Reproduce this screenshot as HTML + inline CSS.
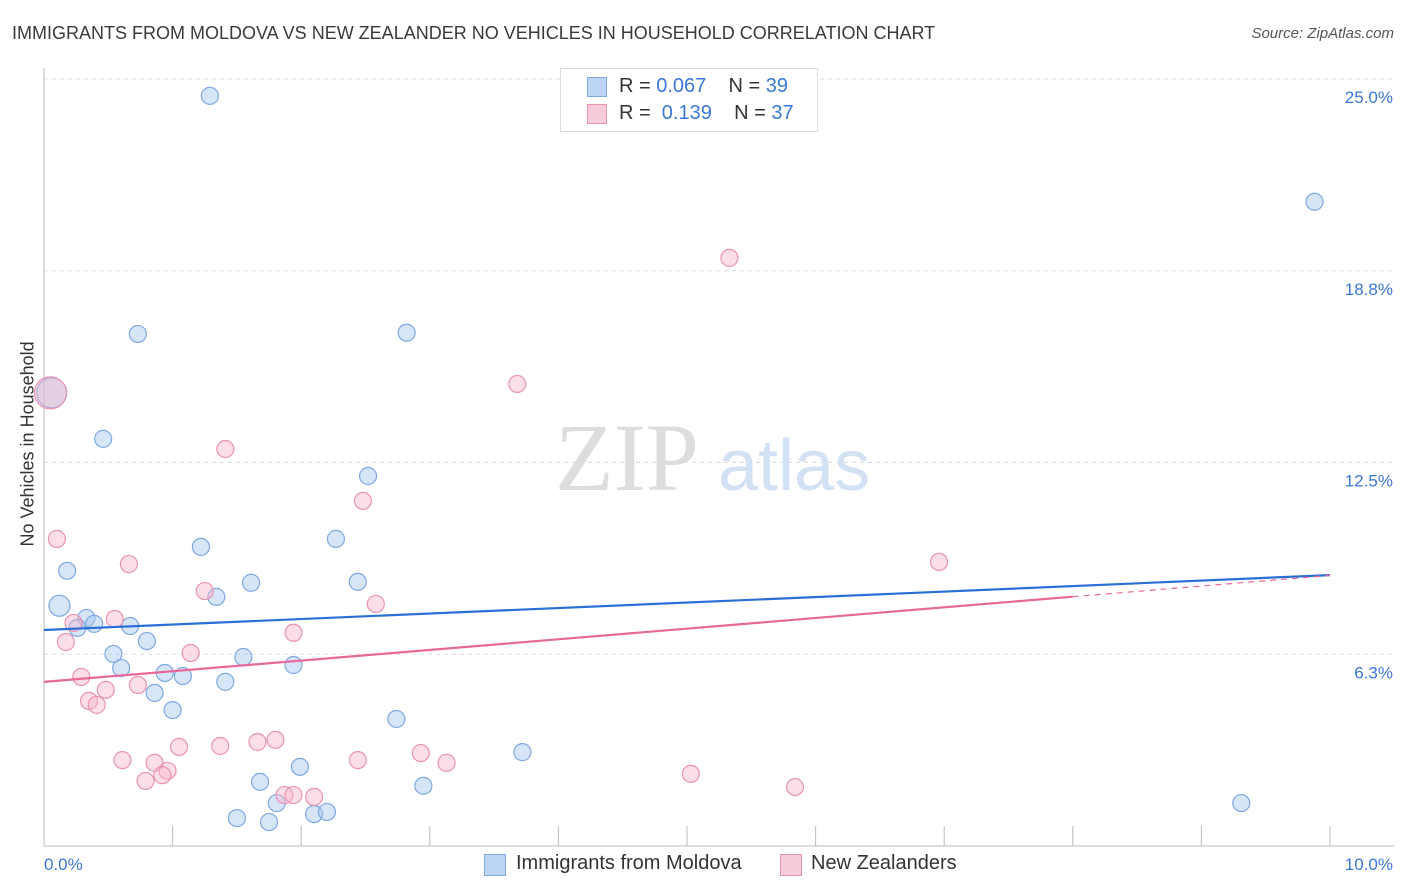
<!DOCTYPE html>
<html><head><meta charset="utf-8">
<style>
body{margin:0;background:#fff;font-family:"Liberation Sans",sans-serif;}
#wrap{position:relative;width:1406px;height:892px;overflow:hidden;}
.t{position:absolute;white-space:nowrap;}
</style></head><body>
<div id="wrap">
<div class="t" style="left:12px;top:23px;font-size:18px;color:#3a3a3a;">IMMIGRANTS FROM MOLDOVA VS NEW ZEALANDER NO VEHICLES IN HOUSEHOLD CORRELATION CHART</div>
<div class="t" style="right:12px;top:25px;font-size:15px;color:#555;font-style:italic;">Source: ZipAtlas.com</div>
<svg id="svg" width="1406" height="892" style="position:absolute;left:0;top:0"></svg>
</div>
<script>
const yTicks=[6.25,12.5,18.75,25];
const yTickLabels=["6.3%","12.5%","18.8%","25.0%"];
const xTickLabels=["0.0%","10.0%"];
const blueX=[1.29,9.88,0.73,2.82,0.06,0.46,2.52,2.27,1.22,0.18,1.61,2.44,1.34,0.12,0.33,0.39,0.26,0.67,0.80,0.54,1.55,0.60,1.94,0.94,1.08,1.41,0.86,1.00,2.74,3.72,1.99,1.68,2.95,1.81,9.31,1.50,1.75,2.10,2.20];
const blueY=[24.45,21.0,16.69,16.73,14.77,13.27,12.06,10.01,9.75,8.97,8.58,8.61,8.12,7.83,7.43,7.24,7.11,7.17,6.68,6.26,6.16,5.80,5.90,5.64,5.54,5.35,4.99,4.43,4.14,3.06,2.58,2.09,1.96,1.40,1.40,0.91,0.78,1.04,1.11];
const blueR=[8.5,8.5,8.5,8.5,15,8.5,8.5,8.5,8.5,8.5,8.5,8.5,8.5,10.5,8.5,8.5,8.5,8.5,8.5,8.5,8.5,8.5,8.5,8.5,8.5,8.5,8.5,8.5,8.5,8.5,8.5,8.5,8.5,8.5,8.5,8.5,8.5,8.5,8.5];
const pinkX=[5.33,3.68,1.41,2.48,0.10,0.66,6.96,1.25,2.58,0.55,0.23,1.94,0.17,1.14,0.29,0.73,0.48,0.35,0.41,0.61,0.86,1.05,1.37,1.66,1.80,0.96,0.92,0.79,2.93,3.13,2.44,5.03,5.84,1.87,1.94,2.10,0.05];
const pinkY=[19.17,15.06,12.94,11.25,10.01,9.19,9.26,8.31,7.89,7.40,7.27,6.95,6.65,6.29,5.51,5.25,5.09,4.73,4.60,2.80,2.71,3.23,3.26,3.39,3.46,2.45,2.31,2.12,3.03,2.71,2.80,2.35,1.92,1.66,1.66,1.60,14.77];
const blueTrend=[7.04,8.83];
const pinkTrend=[5.35,8.82];
const pinkSolidEnd=8.0;
const X0=44,X1=1330,Y0=846,Ytop=79;
const sx=v=>X0+(X1-X0)*v/10;
const sy=v=>Y0-(Y0-Ytop)*v/25;
const svg=document.getElementById('svg');
const NS='http://www.w3.org/2000/svg';
function mk(t,a){const e=document.createElementNS(NS,t);for(const k in a)e.setAttribute(k,a[k]);svg.appendChild(e);return e;}
yTicks.forEach((v,i)=>{
 const g=mk('line',{x1:X0,x2:1394,y1:sy(v),y2:sy(v),stroke:'#ddd','stroke-dasharray':'4,4'});
 
 
 const t=mk('text',{x:1393,y:sy(v)+24,'text-anchor':'end','font-size':17,fill:'#3a78d8','font-family':'Liberation Sans'});
 t.textContent=yTickLabels[i];
 
 
});
const ax=mk('line',{x1:X0,x2:X0,y1:68,y2:Y0,stroke:'#bbb'});


const bx=mk('line',{x1:X0,x2:1394,y1:Y0,y2:Y0,stroke:'#bbb'});


for(let i=0;i<=10;i++){const tk=mk('line',{x1:sx(i),x2:sx(i),y1:826,y2:Y0,stroke:'#bbb'});
 
 }
[[0,44,'start'],[10,1393,'end']].forEach((d,i)=>{const t=mk('text',{x:d[1],y:870,'text-anchor':d[2],'font-size':17,fill:'#3a78d8','font-family':'Liberation Sans'});t.textContent=xTickLabels[i];
 
 });
const w=mk('text',{x:555,y:490,'font-size':96,fill:'#ddd','font-family':'Liberation Serif'});w.textContent='ZIP';


const w2=mk('text',{x:718,y:490,'font-size':72,fill:'#d3e1f5','font-family':'Liberation Sans'});w2.textContent='atlas';


blueX.forEach((v,i)=>{const c=mk('circle',{cx:sx(v),cy:sy(blueY[i]),r:blueR[i],fill:'rgba(165,198,240,0.45)',stroke:'#7ea9e1','stroke-width':1.2});
 
 });
pinkX.forEach((v,i)=>{const c=mk('circle',{cx:sx(v),cy:sy(pinkY[i]),r:i==36?16:8.5,fill:'rgba(246,182,202,0.45)',stroke:'#ea93b3','stroke-width':1.2});
 
 });
const bl=mk('line',{x1:sx(0),y1:sy(blueTrend[0]),x2:sx(10),y2:sy(blueTrend[1]),stroke:'#2a6fd6','stroke-width':2.2});


const py=x=>pinkTrend[0]+(pinkTrend[1]-pinkTrend[0])*x/10;
const pl=mk('line',{x1:sx(0),y1:sy(pinkTrend[0]),x2:sx(pinkSolidEnd),y2:sy(py(pinkSolidEnd)),stroke:'#e8689a','stroke-width':2.2});


const pd=mk('line',{x1:sx(pinkSolidEnd),y1:sy(py(pinkSolidEnd)),x2:sx(10),y2:sy(pinkTrend[1]),stroke:'#e8689a','stroke-width':1.2,'stroke-dasharray':'6,5'});


</script>
<div class="t" style="left:-62px;top:446px;font-size:18px;color:#333;transform:rotate(-90deg);width:180px;text-align:center;">No Vehicles in Household</div>
<div style="position:absolute;left:560px;top:68px;width:256px;height:62px;border:1px solid #ddd;background:#fff;font-size:20px;color:#333;">
 <div style="position:absolute;left:26px;top:8px;width:18px;height:18px;background:#bcd5f5;border:1px solid #7ea9e1;"></div>
 <div class="t" style="left:58px;top:6px;">R = <span style="color:#3a78d8">0.067</span>&nbsp;&nbsp;&nbsp; N = <span style="color:#3a78d8">39</span></div>
 <div style="position:absolute;left:26px;top:35px;width:18px;height:18px;background:#f8cbd9;border:1px solid #ea93b3;"></div>
 <div class="t" style="left:58px;top:33px;">R = &nbsp;<span style="color:#3a78d8">0.139</span>&nbsp;&nbsp;&nbsp; N = <span style="color:#3a78d8">37</span></div>
</div>
<div style="position:absolute;left:484px;top:852px;font-size:20px;color:#333;">
 <div style="position:absolute;left:0;top:2px;width:20px;height:20px;background:#bcd5f5;border:1px solid #7ea9e1;"></div>
 <div class="t" style="left:32px;top:0px;">Immigrants from Moldova</div>
 <div style="position:absolute;left:296px;top:2px;width:20px;height:20px;background:#f8cbd9;border:1px solid #ea93b3;"></div>
 <div class="t" style="left:327px;top:0px;">New Zealanders</div>
</div>
</body></html>
